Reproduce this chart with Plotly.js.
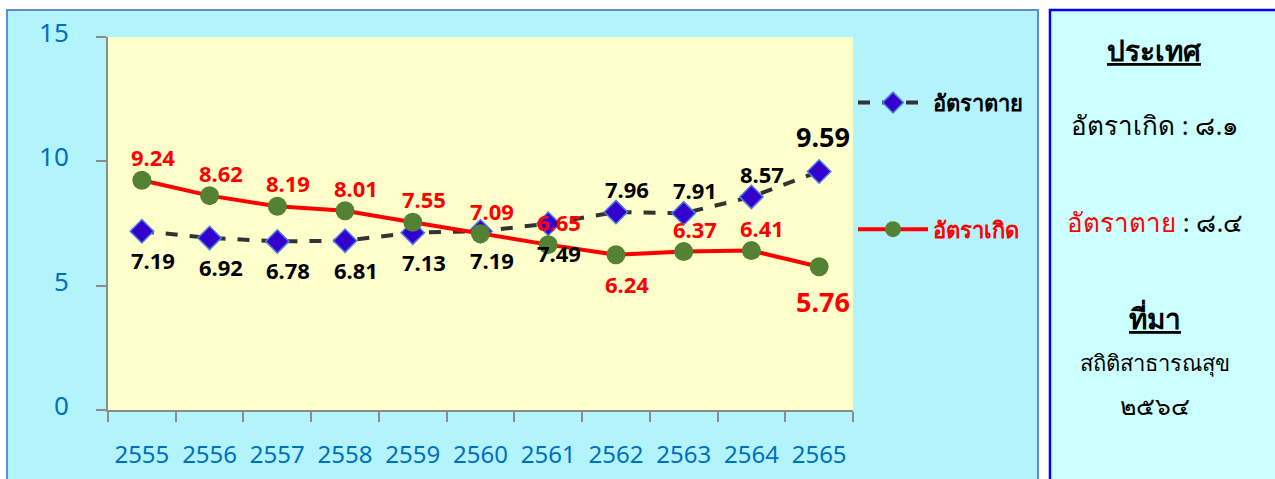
<!DOCTYPE html>
<html><head><meta charset="utf-8">
<script src="https://cdn.plot.ly/plotly-3.0.1.min.js"></script>
<style>html,body{margin:0;padding:0;background:#fff}#chart{width:1275px;height:479px}</style>
</head><body><div id="chart"></div>
<script>
// ---- data ----
const years = ['2555','2556','2557','2558','2559','2560','2561','2562','2563','2564','2565'];
const deathRate = [7.19, 6.92, 6.78, 6.81, 7.13, 7.19, 7.49, 7.96, 7.91, 8.57, 9.59];
const birthRate = [9.24, 8.62, 8.19, 8.01, 7.55, 7.09, 6.65, 6.24, 6.37, 6.41, 5.76];
const deathName = 'อัตราตาย';
const birthName = 'อัตราเกิด';
const yTicks = [0, 5, 10, 15];
const panelTitle = 'ประเทศ';
const panelBirth = 'อัตราเกิด : ๘.๑';
const panelDeathLabel = 'อัตราตาย';
const panelDeathValue = ' : ๘.๔';
const sourceTitle = 'ที่มา';
const sourceName = 'สถิติสาธารณสุข';
const sourceYear = '๒๕๖๔';

// ---- styling ----
const F = 'Noto Sans, Tahoma, DejaVu Sans, sans-serif';
const last = years.length - 1;
const deathAbove = years.map((_, i) => i > 6);
const birthAbove = years.map((_, i) => !(i === 7 || i === last));

// data labels placed at each point via the category axis index
function labelAnnots(vals, above, color) {
  return vals.map((v, i) => {
    const big = i === last;
    const off = big ? 35 : (above[i] ? 23 : 29);
    return {
      xref: 'x', yref: 'y', x: i, y: v, showarrow: false,
      text: '<b>' + v.toFixed(2) + '</b>',
      xanchor: 'center', yanchor: 'middle',
      xshift: big ? 4 : 11, yshift: above[i] ? off : -off,
      font: {family: F, size: big ? 27 : 22, color: color}
    };
  });
}

const traces = [
  {
    x: years, y: deathRate, name: '<b>' + deathName + '</b>', type: 'scatter',
    mode: 'lines+markers', legendgroup: 'd',
    line: {color: '#333333', width: 4, dash: 'dash'},
    marker: {symbol: 'diamond', size: 18, color: '#3300CC', line: {color: '#4F7FE0', width: 1.5}},
    cliponaxis: false, hoverinfo: 'x+y'
  },
  {
    x: years, y: birthRate, name: '<b><span style="color:#FF0000">' + birthName + '</span></b>', type: 'scatter',
    mode: 'lines+markers', legendgroup: 'b',
    line: {color: '#FF0000', width: 4},
    marker: {symbol: 'circle', size: 19, color: '#548235'},
    cliponaxis: false, hoverinfo: 'x+y'
  }
];

const ann = (text, y, size) => ({
  xref: 'paper', yref: 'paper', x: 1.405, y: y, xanchor: 'center', yanchor: 'middle',
  showarrow: false, text: text, font: {family: F, size: size, color: '#000000'}
});

const layout = {
  width: 1275, height: 479,
  margin: {l: 108, r: 422, t: 37, b: 69},
  paper_bgcolor: '#FFFFFF',
  plot_bgcolor: 'rgba(0,0,0,0)',
  showlegend: true,
  legend: {
    x: 1.0, xanchor: 'left', y: 0.88, yanchor: 'top',
    bgcolor: 'rgba(0,0,0,0)', font: {family: F, size: 22, color: '#000000'},
    traceorder: 'grouped', tracegroupgap: 95, itemwidth: 70
  },
  xaxis: {
    type: 'category', range: [-0.5, 10.5], fixedrange: true,
    showline: true, linecolor: '#8C8C8C', linewidth: 2,
    ticks: 'outside', tickson: 'boundaries', ticklen: 10, tickwidth: 2, tickcolor: '#8C8C8C',
    tickfont: {family: F, size: 24, color: '#0070C0'},
    ticklabelstandoff: 22,
    showgrid: false, zeroline: false
  },
  yaxis: {
    range: [0, 15], tickvals: yTicks, fixedrange: true,
    showline: true, linecolor: '#8C8C8C', linewidth: 2,
    ticks: 'outside', ticklen: 10, tickwidth: 2, tickcolor: '#8C8C8C',
    tickfont: {family: F, size: 26, color: '#0070C0'},
    ticklabelstandoff: 22, ticklabelshift: -4,
    showgrid: false, zeroline: false
  },
  shapes: [
    {type: 'rect', xref: 'paper', yref: 'paper', x0: -0.1356, x1: 1.2483, y0: -0.2, y1: 1.0724,
     fillcolor: '#B3F3FC', line: {color: '#5B8FD0', width: 2}, layer: 'below'},
    {type: 'rect', xref: 'paper', yref: 'paper', x0: 1.2644, x1: 1.575, y0: -0.2, y1: 1.0724,
     fillcolor: '#CCFFFF', line: {color: '#0000FF', width: 2.5}, layer: 'below'},
    {type: 'rect', xref: 'paper', yref: 'paper', x0: 0, x1: 1, y0: 0, y1: 1,
     fillcolor: '#FFFFCC', line: {width: 0}, layer: 'below'}
  ],
  annotations: [
    ann('<b><u>' + panelTitle + '</u></b>', 0.965, 28),
    ann(panelBirth, 0.764, 26),
    ann('<span style="color:#FF0000">' + panelDeathLabel + '</span>' + panelDeathValue, 0.504, 26),
    ann('<b><u>' + sourceTitle + '</u></b>', 0.2466, 28),
    ann(sourceName, 0.1287, 22),
    ann(sourceYear, 0.0134, 25)
  ].concat(labelAnnots(deathRate, deathAbove, '#000000'))
   .concat(labelAnnots(birthRate, birthAbove, '#FF0000'))
};

Plotly.newPlot('chart', traces, layout, {displayModeBar: false, staticPlot: true});
</script></body></html>
